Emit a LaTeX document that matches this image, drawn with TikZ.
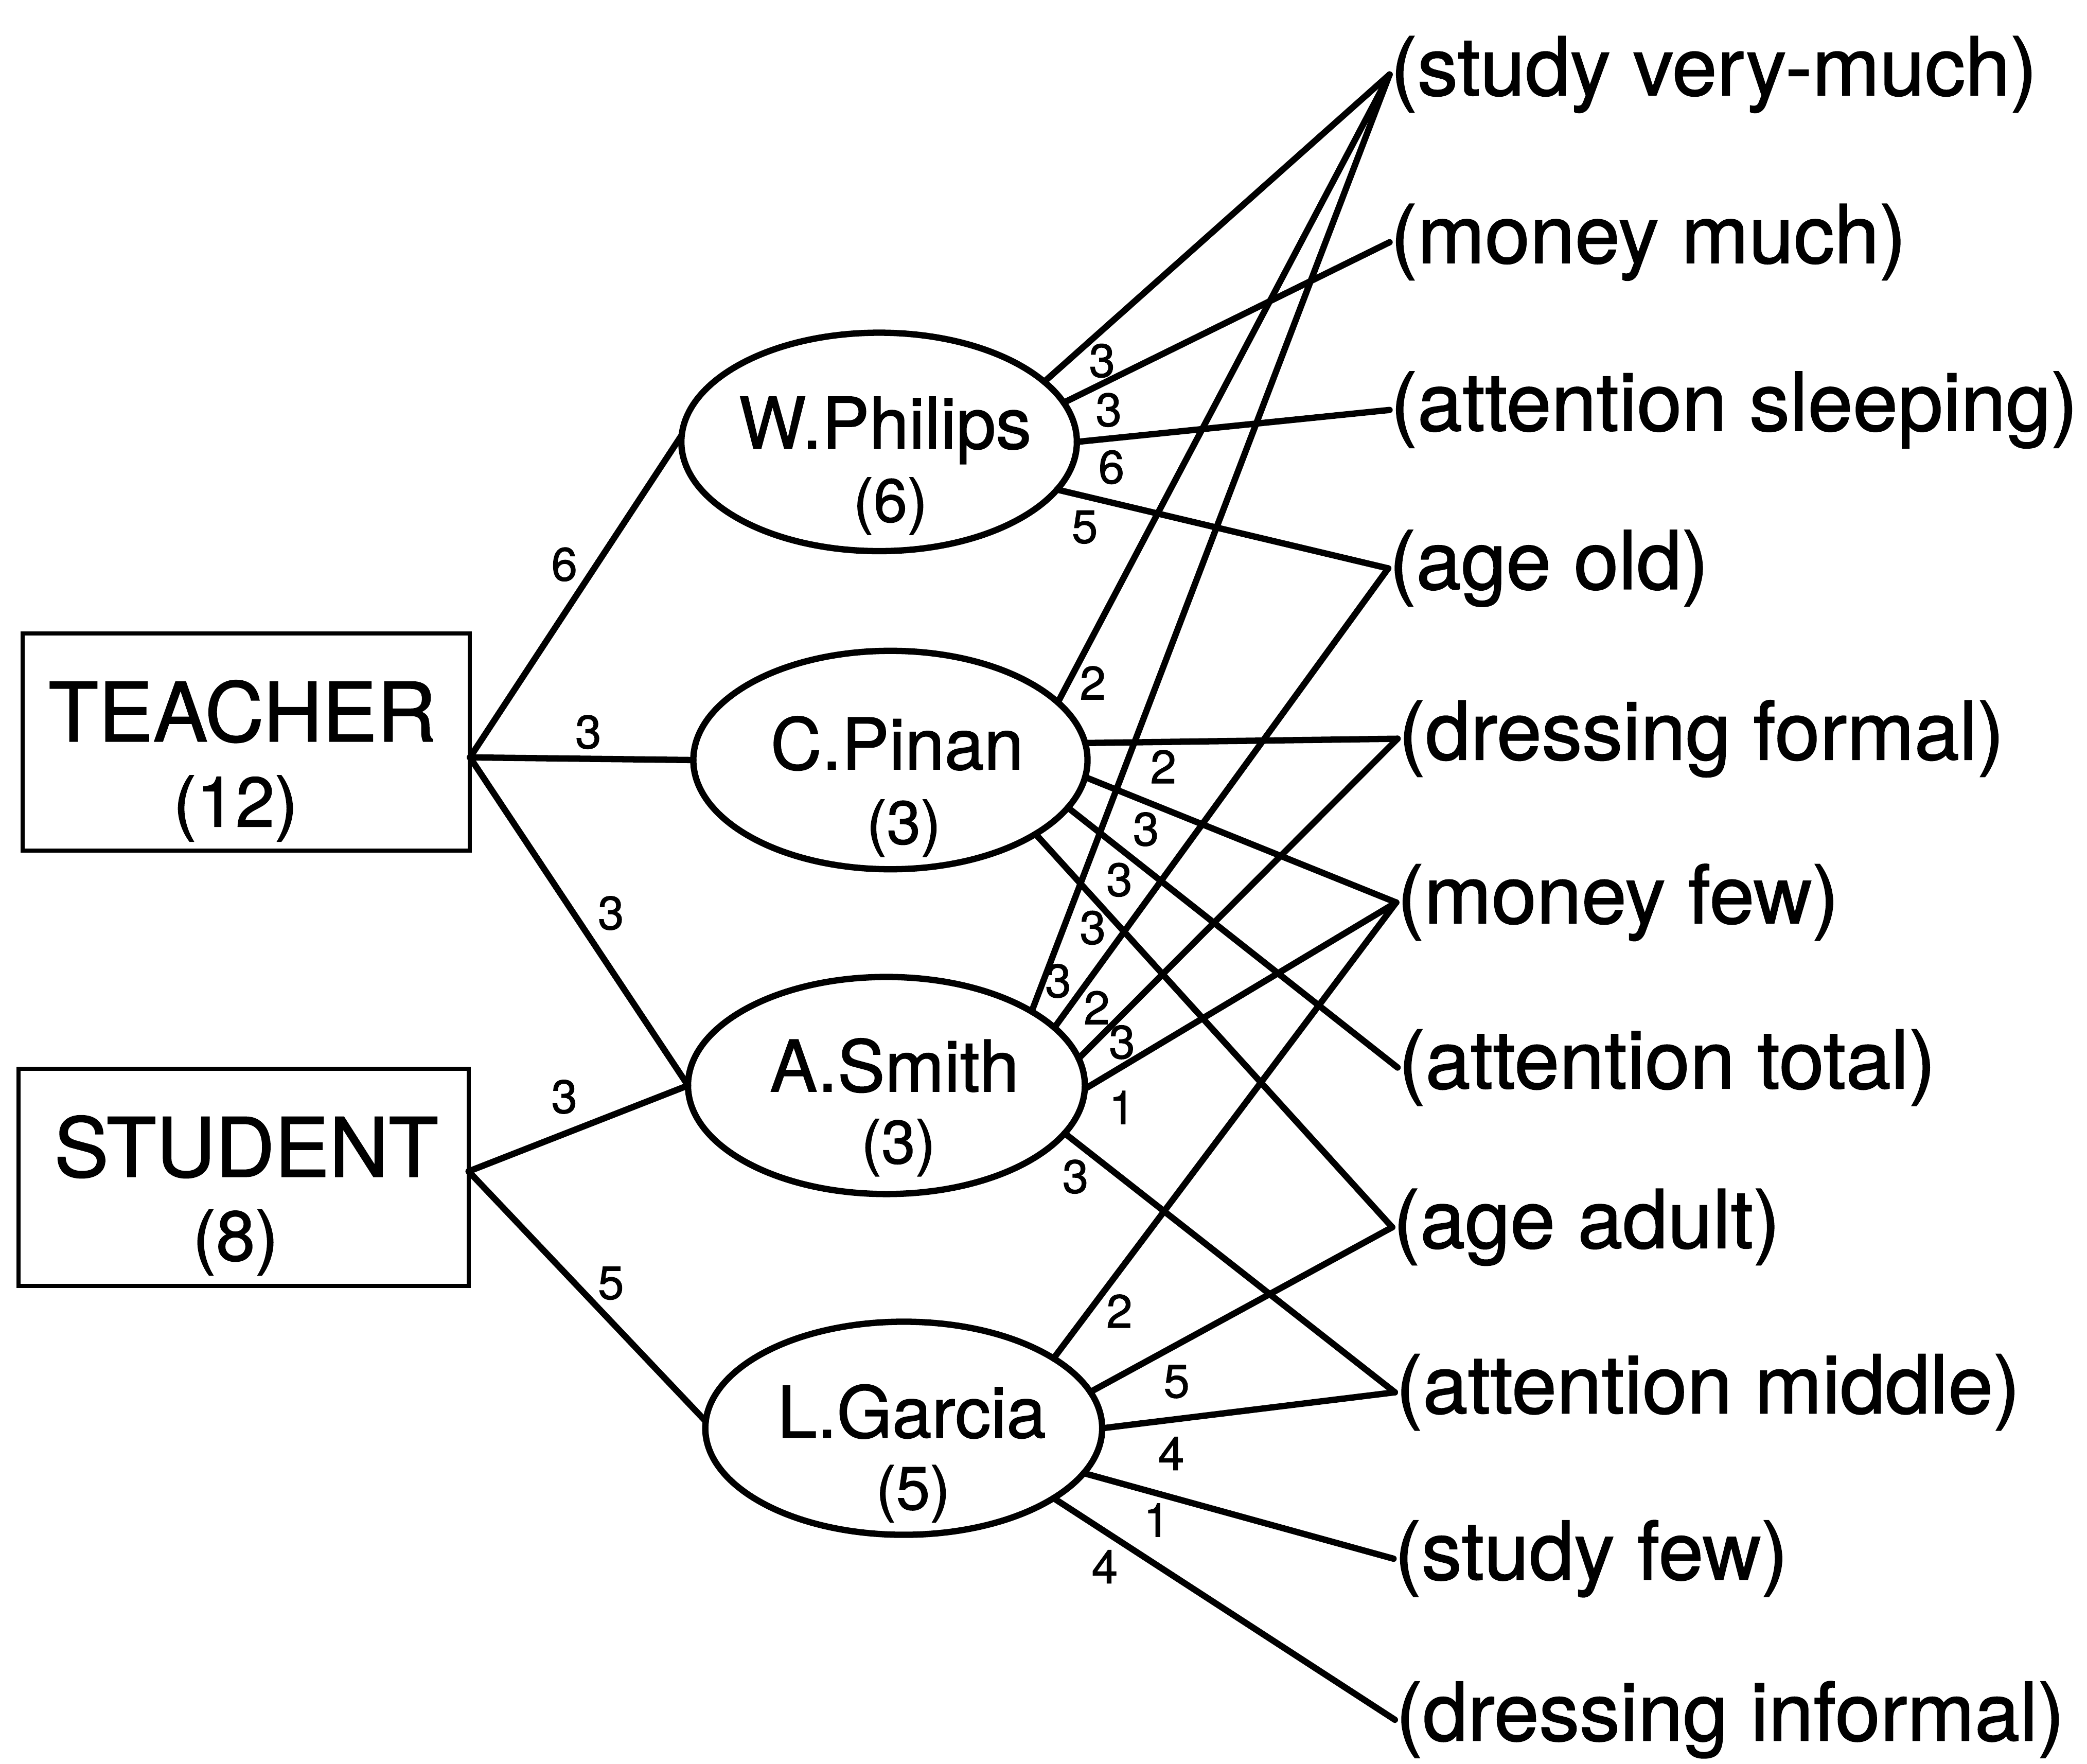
\documentclass[tikz,border=0pt]{standalone}
\usepackage{fontspec}
\setmainfont{TeX Gyre Heros}[RawFeature={embolden=1.2}]
\usetikzlibrary{shapes.geometric}
\begin{document}
\begin{tikzpicture}[x=0.01cm, y=-0.01cm,
  conn/.style={line width=1.35pt, line cap=round, line join=round},
  ell/.style={ellipse, draw, line width=1.35pt, inner sep=0pt, outer sep=0pt},
  catbox/.style={rectangle, draw, line width=0.9pt, inner sep=0pt, outer sep=0pt, minimum height=1.63cm},
  bigtxt/.style={font=\fontsize{17.5}{20}\selectfont, inner sep=0pt, anchor=base},
  cnttxt/.style={font=\fontsize{15}{18}\selectfont, inner sep=0pt, anchor=base},
  nametxt/.style={font=\fontsize{15.2}{18}\selectfont, inner sep=0pt, anchor=base},
  ecnttxt/.style={font=\fontsize{13}{16}\selectfont, inner sep=0pt, anchor=base},
  attr/.style={font=\fontsize{17.3}{20}\selectfont, inner sep=0pt, anchor=west},
  lbl/.style={font=\fontsize{10}{12}\selectfont, inner sep=0pt}
]
\useasboundingbox (0,0) rectangle (1568,1325);

% category boxes
\node[catbox, minimum width=3.36cm] (teacher) at (185,557.5) {};
\node[bigtxt] (teachername) at (182,557) {TEACHER};
\node[cnttxt] (teachercnt) at (177,621) {(12)};
\node[catbox, minimum width=3.38cm] (student) at (183,884.5) {};
\node[bigtxt] (studentname) at (185,884) {STUDENT};
\node[cnttxt] (studentcnt) at (177,947) {(8)};
\coordinate (tv) at ([yshift=-0.115cm]teacher.east);
\coordinate (sv) at ([yshift=0.045cm]student.east);

% person ellipses
\node[ell, minimum width=2.97cm, minimum height=1.64cm] (wp) at (660.5,332) {};
\node[nametxt] (wpname) at (665,337) {W.Philips};
\node[ecnttxt] (wpcnt) at (669,392) {(6)};
\node[ell, minimum width=2.96cm, minimum height=1.64cm] (cp) at (669,571) {};
\node[nametxt] (cpname) at (674,578) {C.Pinan};
\node[ecnttxt] (cpcnt) at (679,634) {(3)};
\node[ell, minimum width=2.98cm, minimum height=1.63cm] (as) at (666,815.5) {};
\node[nametxt] (asname) at (672,820) {A.Smith};
\node[ecnttxt] (ascnt) at (675,874) {(3)};
\node[ell, minimum width=2.98cm, minimum height=1.60cm] (lg) at (679,1073) {};
\node[nametxt] (lgname) at (685,1080) {L.Garcia};
\node[ecnttxt] (lgcnt) at (686,1134) {(5)};

% attribute values
\node[attr] (a1) at (1044,56) {(study very-much)};
\node[attr] (a2) at (1044,182) {(money much)};
\node[attr] (a3) at (1044,308) {(attention sleeping)};
\node[attr] (a4) at (1043,427) {(age old)};
\node[attr] (a5) at (1050,555) {(dressing formal)};
\node[attr] (a6) at (1049,678) {(money few)};
\node[attr] (a7) at (1050,802) {(attention total)};
\node[attr] (a8) at (1046,922) {(age adult)};
\node[attr] (a9) at (1048,1046) {(attention middle)};
\node[attr] (a10) at (1047,1171) {(study few)};
\node[attr] (a11) at (1048,1292) {(dressing informal)};

% left connectors
\draw[conn] (tv) -- (wp.178);
\draw[conn] (tv) -- (cp.180);
\draw[conn] (tv) -- (as.180);
\draw[conn] (sv) -- (as.180);
\draw[conn] (sv) -- (lg.178);
\node[lbl] (l01) at (424,424) {6};
\node[lbl] (l02) at (442,550) {3};
\node[lbl] (l03) at (459,686) {3};
\node[lbl] (l04) at (424,824) {3};
\node[lbl] (l05) at (459,964) {5};

% W.Philips
\draw[conn] (wp.20) -- (a1.west);
\draw[conn] (wp.12) -- (a2.west);
\draw[conn] (wp.0) -- (a3.west);
\draw[conn] (wp.345) -- (a4.west);
\node[lbl] (l06) at (828,271) {3};
\node[lbl] (l07) at (833,308) {3};
\node[lbl] (l08) at (835,351) {6};
\node[lbl] (l09) at (815,396) {5};

% C.Pinan
\draw[conn] (cp.19) -- (a1.west);
\draw[conn] (cp.5) -- (a5.west);
\draw[conn] (cp.355) -- (a6.west);
\draw[conn] (cp.345) -- (a7.west);
\draw[conn] (cp.333) -- (a8.west);
\node[lbl] (l10) at (821,513) {2};
\node[lbl] (l11) at (874,576) {2};
\node[lbl] (l12) at (861,623) {3};
\node[lbl] (l13) at (841,661) {3};
\node[lbl] (l14) at (821,697) {3};

% A.Smith
\draw[conn] (as.27) -- (a1.west);
\draw[conn] (as.19) -- (a4.west);
\draw[conn] (as.8) -- (a5.west);
\draw[conn] (as.359) -- (a6.west);
\draw[conn] (as.345) -- (a9.west);
\node[lbl] (l15) at (795,737) {3};
\node[lbl] (l16) at (824,757) {2};
\node[lbl] (l17) at (843,783) {3};
\node[lbl] (l18) at (843,832) {1};
\node[lbl] (l19) at (808,884) {3};

% L.Garcia
\draw[conn] (lg.25) -- (a6.west);
\draw[conn] (lg.11) -- (a8.west);
\draw[conn] (lg.0) -- (a9.west);
\draw[conn] (lg.346) -- (a10.west);
\draw[conn] (lg.335) -- (a11.west);
\node[lbl] (l20) at (841,985) {2};
\node[lbl] (l21) at (884,1038) {5};
\node[lbl] (l22) at (880,1092) {4};
\node[lbl] (l23) at (869,1142) {1};
\node[lbl] (l24) at (830,1177) {4};
\end{tikzpicture}
\end{document}
